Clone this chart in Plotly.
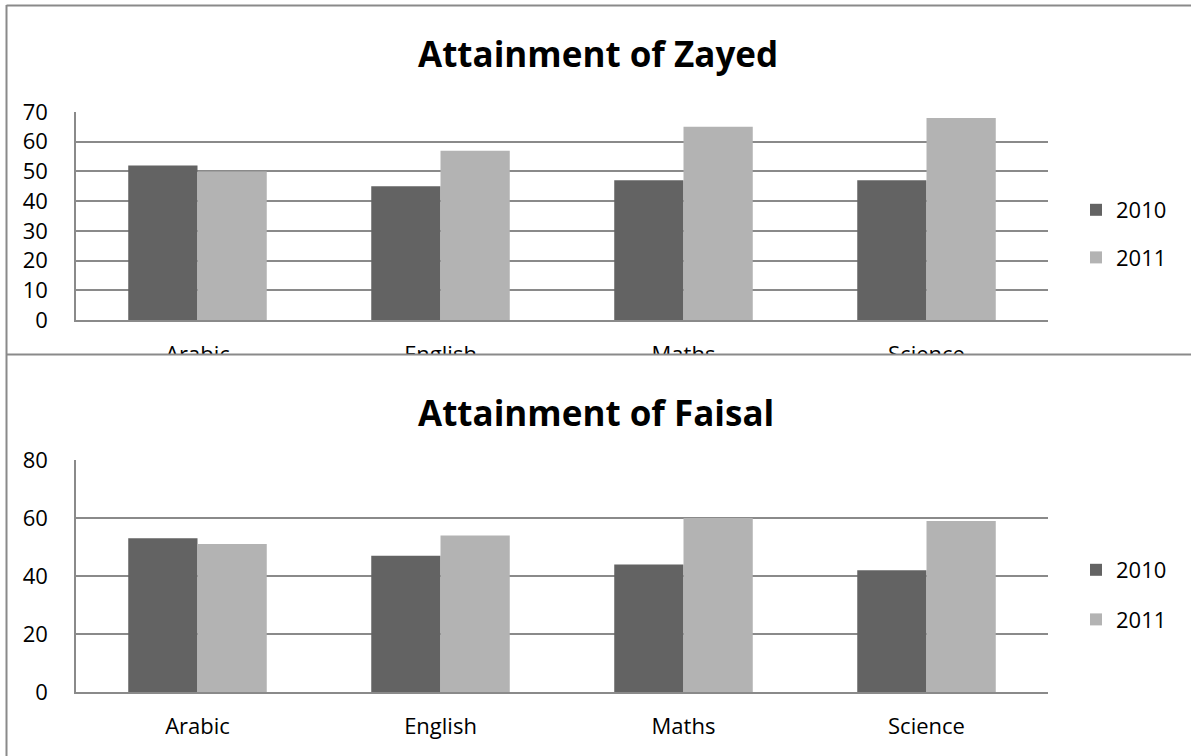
import plotly.graph_objects as go

W, H = 1191, 756

subjects = ["Arabic", "English", "Maths", "Science"]
years = ["2010", "2011"]
zayed_2010 = [52, 45, 47, 47]
zayed_2011 = [50, 57, 65, 68]
faisal_2010 = [53, 47, 44, 42]
faisal_2011 = [51, 54, 60, 59]

colors = {"2010": "#636363", "2011": "#b3b3b3"}
FONT = "Open Sans"
GRID = "#8a8a8a"


def px_x(p):
    return p / W


def px_y(p):
    return 1 - p / H


fig = go.Figure()

fig.add_trace(go.Bar(x=subjects, y=zayed_2010, name=years[0], marker_color=colors["2010"],
                     marker_line_width=0, xaxis="x", yaxis="y", legend="legend",
                     legendgroup="a"))
fig.add_trace(go.Bar(x=subjects, y=zayed_2011, name=years[1], marker_color=colors["2011"],
                     marker_line_width=0, xaxis="x", yaxis="y", legend="legend",
                     legendgroup="b"))
fig.add_trace(go.Bar(x=subjects, y=faisal_2010, name=years[0], marker_color=colors["2010"],
                     marker_line_width=0, xaxis="x2", yaxis="y2", legend="legend2",
                     legendgroup="c"))
fig.add_trace(go.Bar(x=subjects, y=faisal_2011, name=years[1], marker_color=colors["2011"],
                     marker_line_width=0, xaxis="x2", yaxis="y2", legend="legend2",
                     legendgroup="d"))

xdom = [px_x(76), px_x(1048)]
axis_font = dict(family=FONT, size=22, color="black")

xcommon = dict(domain=xdom, showgrid=False, showline=True, linecolor=GRID, linewidth=1.5,
               ticks="", tickfont=axis_font, ticklabelstandoff=14, fixedrange=True,
               automargin=False)
ycommon = dict(showgrid=True, gridcolor=GRID, gridwidth=1.5, showline=True, linecolor=GRID,
               linewidth=1.5, zeroline=False, ticks="", tickfont=axis_font,
               ticklabelstandoff=22, fixedrange=True, automargin=False)

fig.update_layout(
    width=W, height=H,
    margin=dict(l=0, r=0, t=0, b=0, autoexpand=False),
    paper_bgcolor="white", plot_bgcolor="white",
    barmode="group", bargap=0.43, bargroupgap=0,
    font=dict(family=FONT, color="black"),
    xaxis=dict(**xcommon, anchor="y"),
    yaxis=dict(**ycommon, domain=[px_y(320), px_y(112)], range=[0, 70], dtick=10, anchor="x"),
    xaxis2=dict(**xcommon, anchor="y2"),
    yaxis2=dict(**ycommon, domain=[px_y(692), px_y(460)], range=[0, 80], dtick=20, anchor="x2"),
    legend=dict(x=px_x(1076), y=px_y(234), xanchor="left", yanchor="middle",
                font=dict(family=FONT, size=22, color="black"), bgcolor="rgba(0,0,0,0)",
                tracegroupgap=16, traceorder="grouped", itemclick=False),
    legend2=dict(x=px_x(1076), y=px_y(595), xanchor="left", yanchor="middle",
                 font=dict(family=FONT, size=22, color="black"), bgcolor="rgba(0,0,0,0)",
                 tracegroupgap=18, traceorder="grouped", itemclick=False),
    showlegend=True,
)

# titles
fig.add_annotation(text="<b>Attainment of Zayed</b>", x=px_x(598), y=px_y(54), xref="paper",
                   yref="paper", showarrow=False, xanchor="center", yanchor="middle",
                   font=dict(family=FONT, size=35, color="black"))
fig.add_annotation(text="<b>Attainment of Faisal</b>", x=px_x(596), y=px_y(412), xref="paper",
                   yref="paper", showarrow=False, xanchor="center", yanchor="middle",
                   font=dict(family=FONT, size=35, color="black"))

border = "#8a8a8a"
# white panel of the lower chart, hiding the cut-off labels of the upper chart
fig.add_shape(type="rect", xref="paper", yref="paper", x0=px_x(7), x1=1,
              y0=px_y(385), y1=px_y(354.5), fillcolor="white", line_width=0, layer="above")
# chart borders
fig.add_shape(type="line", xref="paper", yref="paper", x0=px_x(6.5), x1=1,
              y0=px_y(5.5), y1=px_y(5.5), line=dict(color=border, width=2), layer="above")
fig.add_shape(type="line", xref="paper", yref="paper", x0=px_x(6.5), x1=1,
              y0=px_y(354.5), y1=px_y(354.5), line=dict(color=border, width=2), layer="above")
fig.add_shape(type="line", xref="paper", yref="paper", x0=px_x(6.5), x1=px_x(6.5),
              y0=px_y(5), y1=0, line=dict(color=border, width=2), layer="above")

fig.write_html(
    "out.html",
    config={"displayModeBar": False},
    post_script="document.body.style.margin='0';document.body.style.overflow='hidden';",
)
